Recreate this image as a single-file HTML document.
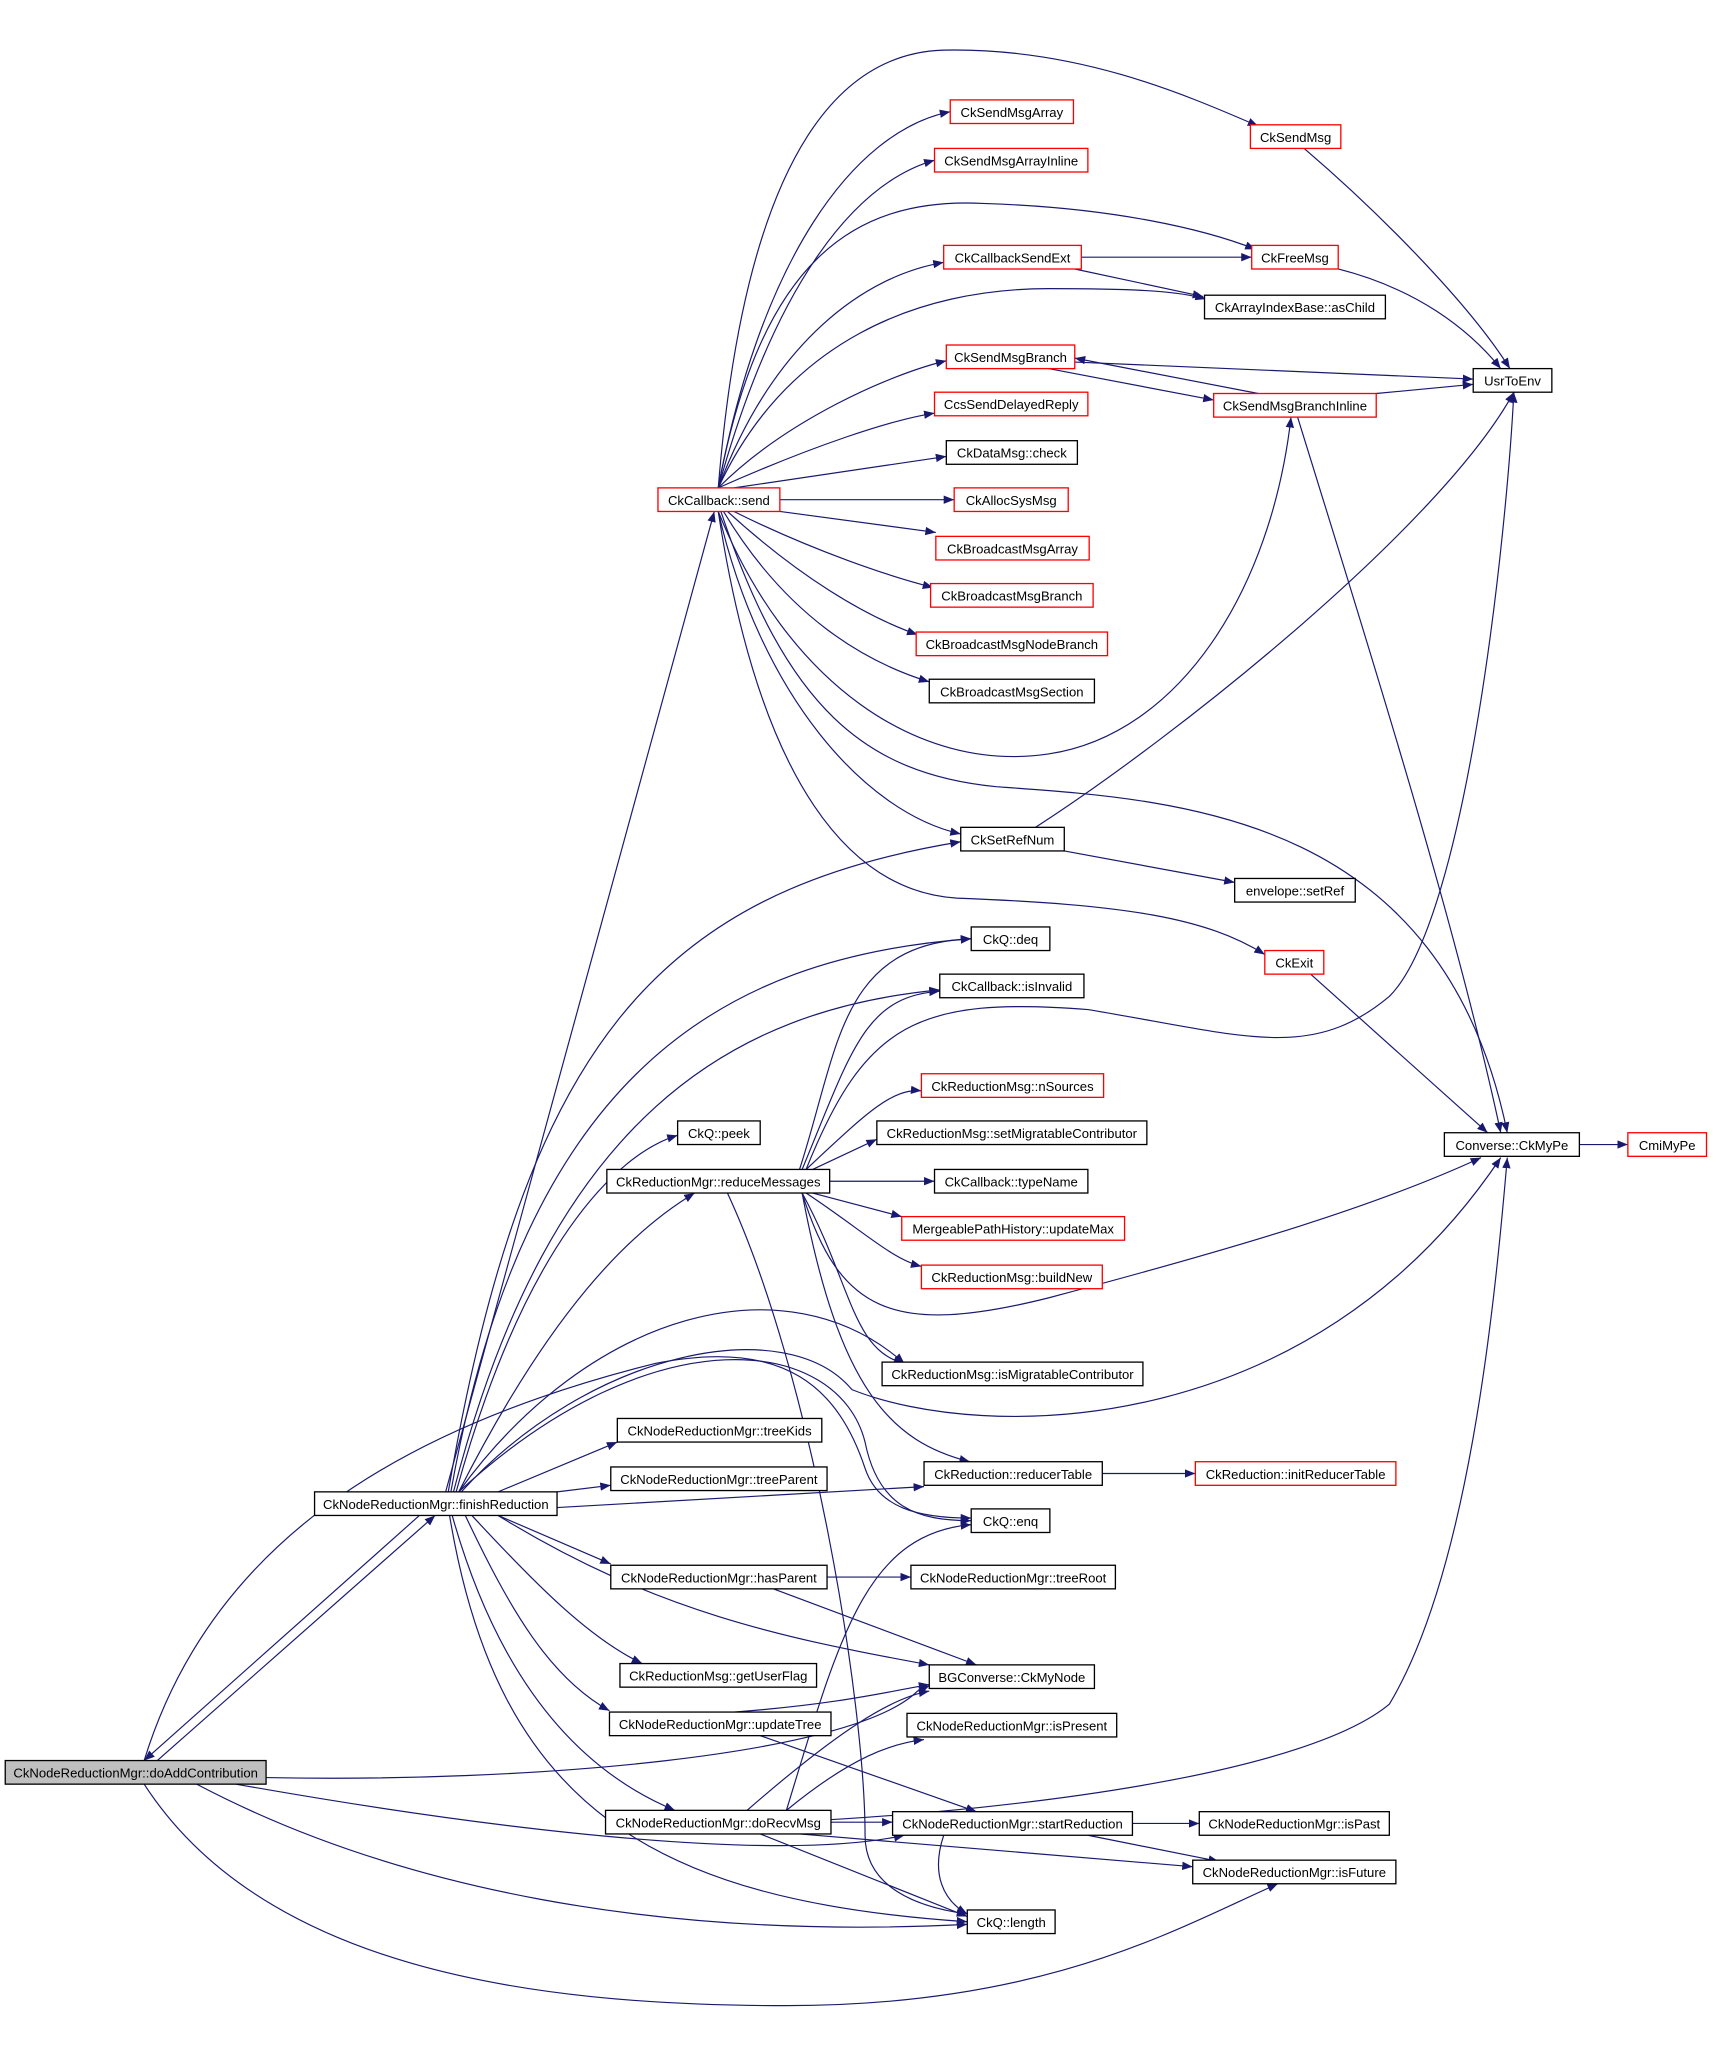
<!DOCTYPE html>
<html><head><meta charset="utf-8"><style>
html,body{margin:0;padding:0;background:#fff;}
svg{display:block;}
text{font-family:"Liberation Sans",sans-serif;font-size:10px;fill:#000;}
</style></head><body>
<svg width="1717" height="2061" viewBox="0 0 1310 1572" xmlns="http://www.w3.org/2000/svg">
<defs><marker id="a" viewBox="0 0 10 10" refX="10" refY="5" markerWidth="8" markerHeight="8" markerUnits="userSpaceOnUse" orient="auto"><path d="M0,1 L10,5 L0,9 z" fill="#191970"/></marker></defs>
<g fill="none" stroke="#191970" stroke-width="0.9" marker-end="url(#a)">
<path d="M548,372 C580,200 650,100 725,85"/>
<path d="M548,372 C590,220 650,140 713,122"/>
<path d="M548,372 C570,100 650,40 720,38 C820,36 900,70 960,96"/>
<path d="M548,372 C580,200 650,150 750,155 C850,158 920,175 958,190"/>
<path d="M548,372 C590,260 660,210 720,200"/>
<path d="M548,372 C600,260 700,220 800,220 C870,220 900,222 920,228"/>
<path d="M548,372 C600,320 680,285 722,275"/>
<path d="M548,372 C620,340 680,320 713,315"/>
<path d="M560,372 L722,348"/>
<path d="M595,381 L728,381"/>
<path d="M595,390 L714,406"/>
<path d="M560,390 C620,420 680,440 712,448"/>
<path d="M555,390 C610,440 660,470 700,484"/>
<path d="M552,390 C600,470 660,505 709,520"/>
<path d="M548,390 C600,520 700,590 800,575 C900,560 970,450 985,318"/>
<path d="M548,390 C580,530 660,620 733,636"/>
<path d="M550,390 C600,540 660,590 760,600 C900,610 1100,620 1150,864"/>
<path d="M548,390 C580,600 650,680 730,685 C860,690 920,700 965,728"/>
<path d="M995,113 C1050,160 1120,230 1152,281"/>
<path d="M1021,205 C1080,220 1120,250 1145,281"/>
<path d="M825,196 L955,196"/>
<path d="M820,205 L918,226"/>
<path d="M800,281 L926,305"/>
<path d="M820,276 L1124,289"/>
<path d="M960,300 L820,273"/>
<path d="M1050,300 L1124,293"/>
<path d="M990,318 C1040,480 1110,700 1145,864"/>
<path d="M790,631 C900,560 1100,400 1155,299"/>
<path d="M812,649 L942,673"/>
<path d="M1000,743 L1135,864"/>
<path d="M1205,873 L1242,873"/>
<path d="M610,892 C640,800 640,720 741,716"/>
<path d="M612,892 C650,800 660,760 717,756"/>
<path d="M615,892 C660,780 700,760 830,770 C950,790 1000,810 1060,760 C1120,700 1150,400 1155,299"/>
<path d="M615,892 C660,850 680,830 703,832"/>
<path d="M620,892 L669,869"/>
<path d="M633,901 L713,901"/>
<path d="M620,910 L688,928"/>
<path d="M615,910 C660,940 680,960 703,966"/>
<path d="M612,910 C650,980 650,1030 690,1040"/>
<path d="M612,910 C640,1000 680,1020 800,990 C950,950 1050,920 1130,883"/>
<path d="M612,910 C640,1060 680,1100 740,1115"/>
<path d="M555,910 C620,1050 660,1300 660,1400 C660,1440 700,1455 738,1460"/>
<path d="M340,1138 L545,390"/>
<path d="M342,1138 C400,800 500,680 733,642"/>
<path d="M344,1138 C400,820 550,730 741,716"/>
<path d="M346,1138 C420,850 560,770 717,755"/>
<path d="M348,1138 C400,950 470,880 517,866"/>
<path d="M350,1138 C420,1000 480,940 530,910"/>
<path d="M350,1138 C450,1000 600,960 690,1040"/>
<path d="M350,1138 C500,1000 640,1020 660,1100 C670,1150 700,1160 741,1160"/>
<path d="M352,1138 C450,1030 600,1000 650,1060 C750,1100 1000,1100 1145,883"/>
<path d="M380,1138 L471,1100"/>
<path d="M425,1138 L466,1133"/>
<path d="M425,1150 L705,1134"/>
<path d="M380,1156 L466,1193"/>
<path d="M380,1156 C500,1230 600,1250 709,1270"/>
<path d="M360,1156 C410,1210 450,1250 490,1269"/>
<path d="M355,1156 C390,1230 420,1280 465,1305"/>
<path d="M345,1156 C380,1280 440,1350 515,1381"/>
<path d="M343,1156 C380,1380 500,1450 738,1466"/>
<path d="M320,1156 L110,1343"/>
<path d="M120,1343 L332,1156"/>
<path d="M110,1343 C160,1180 300,1090 500,1040 C600,1020 640,1060 660,1120 C670,1150 700,1158 741,1158"/>
<path d="M203,1356 C400,1360 650,1340 700,1290 L709,1286"/>
<path d="M180,1361 C400,1400 600,1420 690,1400"/>
<path d="M150,1361 C300,1440 500,1480 738,1468"/>
<path d="M110,1361 C200,1500 400,1530 600,1530 C800,1530 900,1470 975,1437"/>
<path d="M631,1203 L695,1203"/>
<path d="M590,1212 L745,1270"/>
<path d="M560,1306 C640,1300 680,1290 709,1285"/>
<path d="M580,1324 L745,1382"/>
<path d="M634,1390 L681,1390"/>
<path d="M600,1381 C650,1340 680,1330 705,1327"/>
<path d="M570,1381 C640,1320 680,1295 709,1290"/>
<path d="M600,1381 C640,1250 660,1170 741,1163"/>
<path d="M600,1390 C800,1380 1000,1350 1060,1300 C1120,1200 1140,1000 1150,883"/>
<path d="M610,1399 L910,1424"/>
<path d="M580,1399 L738,1462"/>
<path d="M864,1391 L915,1391"/>
<path d="M830,1400 L930,1420"/>
<path d="M720,1400 C710,1430 720,1450 738,1460"/>
<path d="M841,1124 L912,1124"/>
</g>
<g stroke-width="1">
<rect x="4" y="1343" width="199" height="18" fill="#bfbfbf" stroke="#000"/><text x="103.5" y="1356" text-anchor="middle">CkNodeReductionMgr::doAddContribution</text>
</g>
<g fill="#fff" stroke-width="1">
<g stroke="#ff0000">
<rect x="502" y="372" width="93" height="18"/>
<rect x="725" y="76" width="94" height="18"/>
<rect x="713" y="113" width="117" height="18"/>
<rect x="720" y="187" width="105" height="18"/>
<rect x="722" y="263" width="98" height="18"/>
<rect x="713" y="299" width="117" height="18"/>
<rect x="728" y="372" width="87" height="18"/>
<rect x="714" y="409" width="117" height="18"/>
<rect x="710" y="445" width="124" height="18"/>
<rect x="699" y="482" width="146" height="18"/>
<rect x="954" y="95" width="69" height="18"/>
<rect x="955" y="187" width="66" height="18"/>
<rect x="926" y="300" width="124" height="18"/>
<rect x="965" y="725" width="45" height="18"/>
<rect x="703" y="819" width="139" height="18"/>
<rect x="688" y="928" width="170" height="18"/>
<rect x="703" y="965" width="138" height="18"/>
<rect x="1242" y="864" width="60" height="18"/>
<rect x="912" y="1115" width="153" height="18"/>
</g>
<g stroke="#000">
<rect x="722" y="336" width="100" height="18"/>
<rect x="709" y="518" width="126" height="18"/>
<rect x="919" y="225" width="138" height="18"/>
<rect x="1124" y="281" width="60" height="18"/>
<rect x="733" y="631" width="79" height="18"/>
<rect x="942" y="670" width="92" height="18"/>
<rect x="741" y="707" width="60" height="18"/>
<rect x="717" y="743" width="110" height="18"/>
<rect x="669" y="855" width="206" height="18"/>
<rect x="517" y="855" width="63" height="18"/>
<rect x="463" y="892" width="170" height="18"/>
<rect x="713" y="892" width="117" height="18"/>
<rect x="673" y="1039" width="199" height="18"/>
<rect x="1102" y="864" width="103" height="18"/>
<rect x="471" y="1082" width="156" height="18"/>
<rect x="466" y="1119" width="165" height="18"/>
<rect x="240" y="1138" width="185" height="18"/>
<rect x="705" y="1115" width="136" height="18"/>
<rect x="741" y="1151" width="60" height="18"/>
<rect x="466" y="1194" width="165" height="18"/>
<rect x="695" y="1194" width="156" height="18"/>
<rect x="473" y="1269" width="150" height="18"/>
<rect x="709" y="1270" width="126" height="18"/>
<rect x="465" y="1306" width="169" height="18"/>
<rect x="692" y="1307" width="160" height="18"/>
<rect x="462" y="1381" width="172" height="18"/>
<rect x="681" y="1382" width="183" height="18"/>
<rect x="915" y="1382" width="145" height="18"/>
<rect x="910" y="1419" width="155" height="18"/>
<rect x="738" y="1457" width="67" height="18"/>
</g>
</g>
<g text-anchor="middle">
<text x="548.5" y="385">CkCallback::send</text>
<text x="772" y="89">CkSendMsgArray</text>
<text x="771.5" y="126">CkSendMsgArrayInline</text>
<text x="772.5" y="200">CkCallbackSendExt</text>
<text x="771" y="276">CkSendMsgBranch</text>
<text x="771.5" y="312">CcsSendDelayedReply</text>
<text x="771.5" y="385">CkAllocSysMsg</text>
<text x="772.5" y="422">CkBroadcastMsgArray</text>
<text x="772" y="458">CkBroadcastMsgBranch</text>
<text x="772" y="495">CkBroadcastMsgNodeBranch</text>
<text x="988.5" y="108">CkSendMsg</text>
<text x="988" y="200">CkFreeMsg</text>
<text x="988" y="313">CkSendMsgBranchInline</text>
<text x="987.5" y="738">CkExit</text>
<text x="772.5" y="832">CkReductionMsg::nSources</text>
<text x="773" y="941">MergeablePathHistory::updateMax</text>
<text x="772" y="978">CkReductionMsg::buildNew</text>
<text x="1272" y="877">CmiMyPe</text>
<text x="988.5" y="1128">CkReduction::initReducerTable</text>
<text x="772" y="349">CkDataMsg::check</text>
<text x="772" y="531">CkBroadcastMsgSection</text>
<text x="988" y="238">CkArrayIndexBase::asChild</text>
<text x="1154" y="294">UsrToEnv</text>
<text x="772.5" y="644">CkSetRefNum</text>
<text x="988" y="683">envelope::setRef</text>
<text x="771" y="720">CkQ::deq</text>
<text x="772" y="756">CkCallback::isInvalid</text>
<text x="772" y="868">CkReductionMsg::setMigratableContributor</text>
<text x="548.5" y="868">CkQ::peek</text>
<text x="548" y="905">CkReductionMgr::reduceMessages</text>
<text x="771.5" y="905">CkCallback::typeName</text>
<text x="772.5" y="1052">CkReductionMsg::isMigratableContributor</text>
<text x="1153.5" y="877">Converse::CkMyPe</text>
<text x="549" y="1095">CkNodeReductionMgr::treeKids</text>
<text x="548.5" y="1132">CkNodeReductionMgr::treeParent</text>
<text x="332.5" y="1151">CkNodeReductionMgr::finishReduction</text>
<text x="773" y="1128">CkReduction::reducerTable</text>
<text x="771" y="1164">CkQ::enq</text>
<text x="548.5" y="1207">CkNodeReductionMgr::hasParent</text>
<text x="773" y="1207">CkNodeReductionMgr::treeRoot</text>
<text x="548" y="1282">CkReductionMsg::getUserFlag</text>
<text x="772" y="1283">BGConverse::CkMyNode</text>
<text x="549.5" y="1319">CkNodeReductionMgr::updateTree</text>
<text x="772" y="1320">CkNodeReductionMgr::isPresent</text>
<text x="548" y="1394">CkNodeReductionMgr::doRecvMsg</text>
<text x="772.5" y="1395">CkNodeReductionMgr::startReduction</text>
<text x="987.5" y="1395">CkNodeReductionMgr::isPast</text>
<text x="987.5" y="1432">CkNodeReductionMgr::isFuture</text>
<text x="771.5" y="1470">CkQ::length</text>
</g>
</svg>
</body></html>
